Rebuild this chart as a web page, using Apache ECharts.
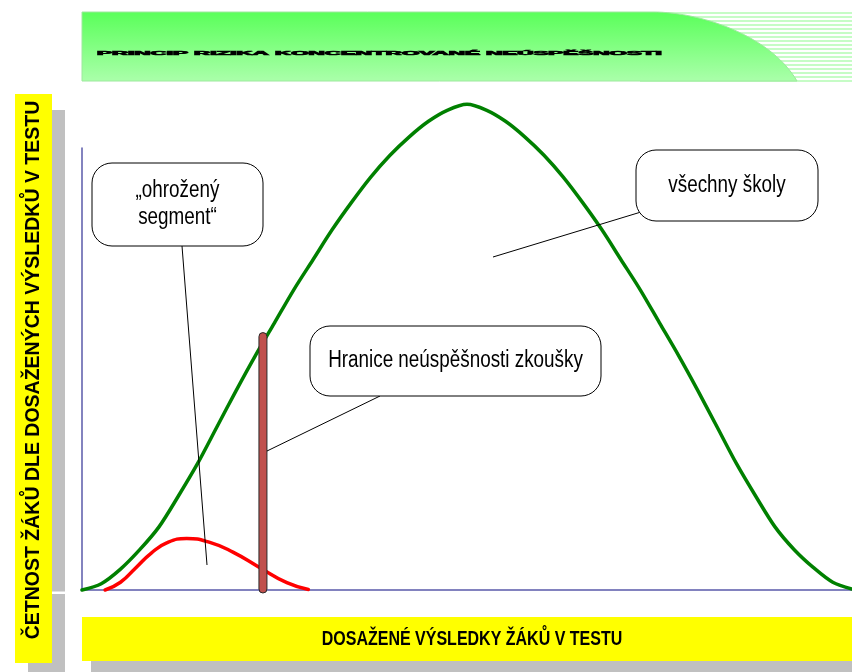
<!DOCTYPE html>
<html>
<head>
<meta charset="utf-8">
<script src="https://cdn.jsdelivr.net/npm/echarts@6/dist/echarts.min.js"></script>
<style>html,body{margin:0;padding:0;background:#fff}#c{width:852px;height:672px}</style>
</head>
<body>
<div id="c"></div>
<script>
// ---- data ----
var titleText = 'PRINCIP RIZIKA KONCENTROVANÉ NEÚSPĚŠNOSTI';
var xAxisLabel = 'DOSAŽENÉ VÝSLEDKY ŽÁKŮ V TESTU';
var yAxisLabel = 'ČETNOST ŽÁKŮ DLE DOSAŽENÝCH VÝSLEDKŮ V TESTU';
var allX = [0, 2.5, 5, 7.5, 10, 12.5, 15, 17.5, 20, 22.5, 25, 27.5, 30, 32.5, 35, 37.5, 40, 42.5, 45, 47.5, 50,
            52.5, 55, 57.5, 60, 62.5, 65, 67.5, 70, 72.5, 75, 77.5, 80, 82.5, 85, 87.5, 90, 92.5, 95, 97.5, 100];
var allY = [0, 1.3, 4.3, 8.3, 13, 19.3, 26, 33.5, 41, 48.2, 55, 61.8, 68, 74.2, 79.8, 85, 89.5, 93.3, 96.5, 98.8, 100,
            98.8, 96.5, 93.3, 89.5, 85, 79.8, 74.2, 68, 61.8, 55, 48.2, 41, 33.5, 26, 19.3, 13, 8.3, 4.6, 1.6, 0.2];
var riskX = [3, 5, 7, 9, 11, 13.6, 16.6, 19.6, 23.1, 26.6, 29.4];
var riskY = [0, 1.6, 4.6, 7.6, 9.7, 10.6, 9.8, 7.8, 4.6, 1.5, 0.1];
var boundaryX = [23.5];
var boundaryTop = [53];
var calloutAll = 'všechny školy';
var calloutBoundary = 'Hranice neúspěšnosti zkoušky';
var calloutRisk = '„ohrožený\nsegment“';

function pairs(xs, ys) { return xs.map(function (x, i) { return [x, ys[i]]; }); }

var chart = echarts.init(document.getElementById('c'), null, {renderer: 'canvas'});
var grad = function () {
  return {type: 'linear', x: 0, y: 12, x2: 0, y2: 81, global: true,
    colorStops: [{offset: 0, color: '#5aff5a'}, {offset: 1, color: '#aaffaa'}]};
};

var gfx = [];
// header stripes
for (var yy = 13; yy <= 81; yy += 4) {
  gfx.push({type: 'line', z: 0, shape: {x1: 640, y1: yy, x2: 852, y2: yy},
    style: {stroke: '#c6fcc6', lineWidth: 2}});
}
// header shape (straight edge then a curved right edge)
var hp = [[82, 12], [653, 12]];
var P0 = [653, 12], P1 = [700, 12], P2 = [770, 35], P3 = [797, 81];
for (var k = 1; k <= 30; k++) {
  var t = k / 30, u = 1 - t;
  hp.push([u * u * u * P0[0] + 3 * u * u * t * P1[0] + 3 * u * t * t * P2[0] + t * t * t * P3[0],
           u * u * u * P0[1] + 3 * u * u * t * P1[1] + 3 * u * t * t * P2[1] + t * t * t * P3[1]]);
}
hp.push([82, 81]);
gfx.push({type: 'polygon', z: 1, shape: {points: hp},
  style: {fill: grad(), stroke: '#9ee89e', lineWidth: 1}});
// title: only a thin sliver of it is visible in the original
gfx.push({type: 'text', z: 2, x: 97, y: 53.5, scaleX: 1.12, scaleY: 0.24, style: {text: titleText, fill: '#000',
  stroke: '#000', lineWidth: 2.5,
  font: 'bold 20px "Liberation Sans", Arial', textAlign: 'left', textVerticalAlign: 'middle'}});

// y label box
gfx.push({type: 'rect', z: 0, shape: {x: 52, y: 110, width: 13, height: 481.5}, style: {fill: '#c0c0c0'}});
gfx.push({type: 'rect', z: 0, shape: {x: 52, y: 594, width: 13, height: 78}, style: {fill: '#c0c0c0'}});
gfx.push({type: 'rect', z: 0, shape: {x: 28, y: 663, width: 25, height: 9}, style: {fill: '#c0c0c0'}});
gfx.push({type: 'rect', z: 1, shape: {x: 15, y: 94, width: 37, height: 569}, style: {fill: '#ffff00'}});
gfx.push({type: 'text', z: 2, x: 34, y: 370, rotation: Math.PI / 2, style: {text: yAxisLabel, fill: '#000',
  font: 'bold 19.5px "Liberation Sans", Arial', textAlign: 'center', textVerticalAlign: 'middle'}});

// x label box
gfx.push({type: 'rect', z: 0, shape: {x: 91, y: 661, width: 761, height: 11}, style: {fill: '#c0c0c0'}});
gfx.push({type: 'rect', z: 1, shape: {x: 82, y: 617, width: 770, height: 44}, style: {fill: '#ffff00'}});
gfx.push({type: 'text', z: 2, x: 472, y: 639, scaleX: 0.8, style: {text: xAxisLabel, fill: '#000',
  font: 'bold 20px "Liberation Sans", Arial, sans-serif',
  textAlign: 'center', textVerticalAlign: 'middle'}});

// callouts
function callout(x, y, w, h, txt, lx1, ly1, lx2, ly2) {
  gfx.push({type: 'line', z: 100, shape: {x1: lx1, y1: ly1, x2: lx2, y2: ly2}, style: {stroke: '#000', lineWidth: 1}});
  gfx.push({type: 'rect', z: 101, shape: {x: x, y: y, width: w, height: h, r: 20},
    style: {fill: '#fff', stroke: '#000', lineWidth: 1}});
  gfx.push({type: 'text', z: 102, x: x + w / 2, y: y + h / 2, scaleX: 0.82, style: {text: txt, fill: '#000',
    font: '23px "Liberation Sans", Arial, sans-serif',
    lineHeight: 27, textAlign: 'center', textVerticalAlign: 'middle'}});
}
callout(92, 163, 171, 83, calloutRisk, 182, 246, 207, 565);
callout(310, 326, 291, 70, calloutBoundary, 380, 396, 267, 451);
callout(636, 150, 182, 71, calloutAll, 641, 212, 493, 257);

chart.setOption({
  animation: false,
  backgroundColor: '#fff',
  grid: {left: 82, right: 0, top: 148, bottom: 82},
  xAxis: {type: 'value', min: 0, max: 100,
    axisLine: {show: true, lineStyle: {color: '#5a5aaa', width: 1.5}},
    axisTick: {show: false}, axisLabel: {show: false}, splitLine: {show: false}},
  yAxis: {type: 'value', min: 0, max: 91,
    axisLine: {show: true, lineStyle: {color: '#5a5aaa', width: 1.5}},
    axisTick: {show: false}, axisLabel: {show: false}, splitLine: {show: false}},
  graphic: gfx,
  series: [
    {type: 'line', data: pairs(allX, allY), smooth: 0.3, clip: false, symbol: 'none', z: 3,
      lineStyle: {color: '#008000', width: 3.5, cap: 'round'}},
    {type: 'line', data: pairs(riskX, riskY), smooth: 0.5, clip: false, symbol: 'none', z: 4,
      lineStyle: {color: '#ff0000', width: 3.5, cap: 'round'}},
    {type: 'custom', z: 5, clip: false, data: pairs(boundaryX, boundaryTop),
      renderItem: function (params, api) {
        var top = api.coord([api.value(0), api.value(1)]);
        var bot = api.coord([api.value(0), 0]);
        return {type: 'rect', shape: {x: top[0] - 4, y: top[1], width: 8, height: bot[1] - top[1] + 3, r: 4},
          style: {fill: '#c0504d', stroke: '#2a2a2a', lineWidth: 1}};
      }}
  ]
});
</script>
</body>
</html>
